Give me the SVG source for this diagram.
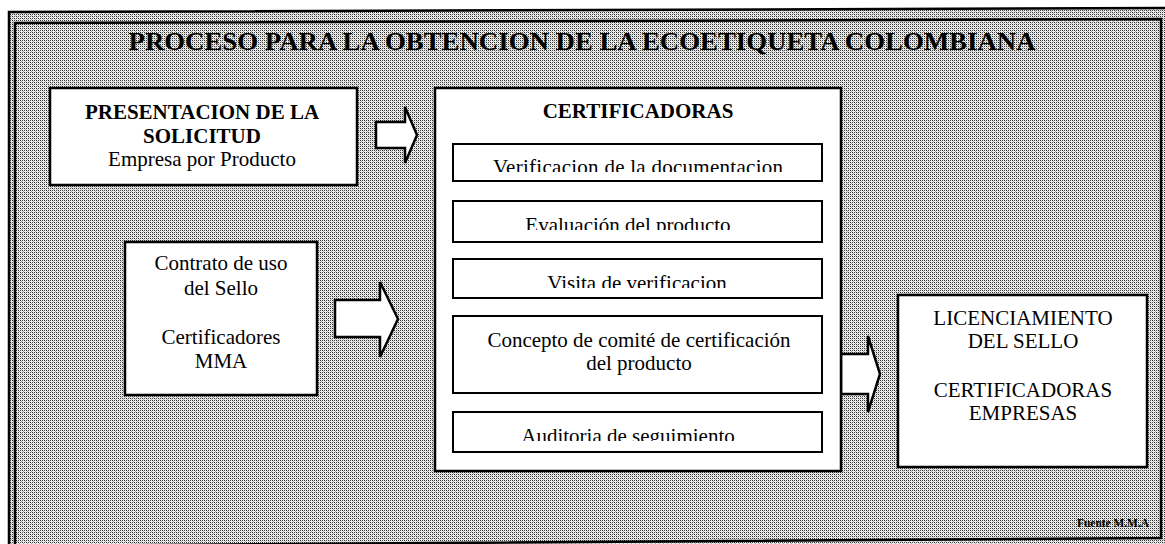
<svg xmlns="http://www.w3.org/2000/svg" width="1165" height="544" viewBox="0 0 1165 544">
<defs>
<pattern id="dots" width="4" height="4" patternUnits="userSpaceOnUse">
<rect width="4" height="4" fill="#ececec"/>
<rect x="0" y="0" width="1" height="1" fill="#2a2a2a"/>
<rect x="2" y="2" width="1" height="1" fill="#2a2a2a"/>
<rect x="2" y="0" width="1" height="1" fill="#4a4a4a"/>
<rect x="0" y="2" width="1" height="1" fill="#4a4a4a"/>
<rect x="1" y="1" width="1" height="1" fill="#b0b0b0"/>
<rect x="3" y="3" width="1" height="1" fill="#b0b0b0"/>
</pattern>
<clipPath id="c1"><rect x="453" y="144" width="369" height="28"/></clipPath>
<clipPath id="c2"><rect x="453" y="201" width="369" height="29"/></clipPath>
<clipPath id="c3"><rect x="453" y="259" width="369" height="29"/></clipPath>
<clipPath id="c5"><rect x="453" y="412" width="369" height="29"/></clipPath>
</defs>
<style>
.box{fill:#fff;stroke:#000;stroke-width:2.5}
.sub{fill:#fff;stroke:#000;stroke-width:2}
.arrow{fill:#fff;stroke:#000;stroke-width:2.5;stroke-linejoin:miter}
.frame{fill:none;stroke:#000;stroke-width:2.5}
text{font-family:"Liberation Serif","Times New Roman",serif;fill:#000;text-anchor:middle}
.b{font-weight:bold;font-size:21px}
.r{font-size:21px}
.title{font-weight:bold;font-size:26px}
.src{font-size:13px;font-weight:bold}
</style>
<rect width="1165" height="544" fill="#fff"/>
<polygon points="9,12 1165,8 1165,544 9,544" fill="url(#dots)"/>
<g id="frame">
<path class="frame" d="M9,548 V12 L1165,8"/>
<path class="frame" d="M15,548 V23 L1161,19 V538 L15,546"/>
</g>
<text id="title" class="title" x="582" y="50" textLength="907" lengthAdjust="spacingAndGlyphs">PROCESO PARA LA OBTENCION DE LA ECOETIQUETA COLOMBIANA</text>

<g id="connectors">
<polygon class="arrow" points="376,122 405,122 405,107 417,135 405,163 405,148 376,148"/>
<polygon class="arrow" points="335,300 380,300 380,282 398,319 380,357 380,337 335,337"/>
<polygon class="arrow" points="841,354 868,354 868,336 880,374 868,412 868,394 841,394"/>
</g>

<g id="solicitud">
<rect class="box" x="50" y="88" width="307" height="97"/>
<text class="b" x="202" y="119">PRESENTACION DE LA</text>
<text class="b" x="202" y="143">SOLICITUD</text>
<text class="r" x="202" y="166">Empresa por Producto</text>
</g>

<g id="contrato">
<rect class="box" x="125" y="242" width="192" height="153"/>
<text class="r" x="221" y="270">Contrato de uso</text>
<text class="r" x="221" y="295">del Sello</text>
<text class="r" x="221" y="344">Certificadores</text>
<text class="r" x="221" y="368">MMA</text>
</g>

<g id="certificadoras">
<rect class="box" x="435" y="88" width="406" height="383"/>
<text class="b" x="638" y="118">CERTIFICADORAS</text>
</g>

<g id="verificacion-doc">
<rect class="sub" x="453" y="144" width="369" height="37"/>
<text class="r" x="638" y="174" clip-path="url(#c1)" textLength="290" lengthAdjust="spacing">Verificacion de la documentacion</text>
</g>

<g id="evaluacion">
<rect class="sub" x="453" y="201" width="369" height="41"/>
<text class="r" x="628" y="232" clip-path="url(#c2)">Evaluación del producto</text>
</g>

<g id="visita">
<rect class="sub" x="453" y="259" width="369" height="39"/>
<text class="r" x="637" y="290" clip-path="url(#c3)">Visita de verificacion</text>
</g>

<g id="concepto">
<rect class="sub" x="453" y="316" width="369" height="77"/>
<text class="r" x="639" y="347">Concepto de comité de certificación</text>
<text class="r" x="639" y="370">del producto</text>
</g>

<g id="auditoria">
<rect class="sub" x="453" y="412" width="369" height="40"/>
<text class="r" x="628" y="443" clip-path="url(#c5)">Auditoria de seguimiento</text>
</g>

<g id="licenciamiento">
<rect class="box" x="898" y="295" width="249" height="172"/>
<text class="r" x="1023" y="325">LICENCIAMIENTO</text>
<text class="r" x="1023" y="348">DEL SELLO</text>
<text class="r" x="1023" y="397">CERTIFICADORAS</text>
<text class="r" x="1023" y="420">EMPRESAS</text>
</g>

<text id="fuente" class="src" x="1113" y="527" textLength="72" lengthAdjust="spacingAndGlyphs">Fuente M.M.A</text>
</svg>
